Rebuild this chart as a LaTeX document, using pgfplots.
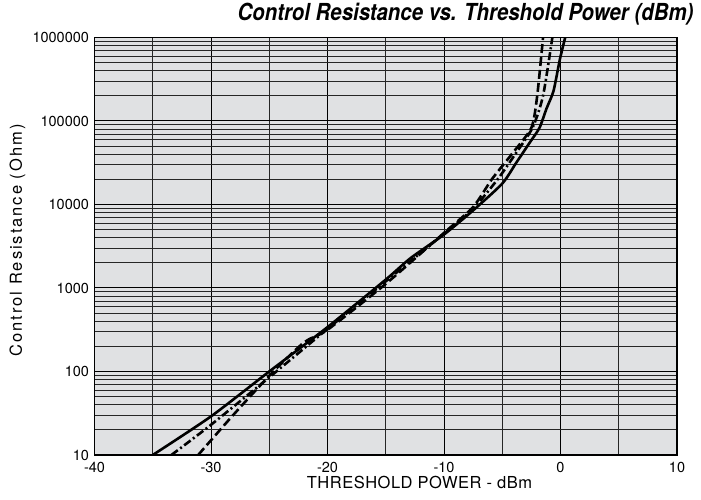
\documentclass[border=0pt]{standalone}
\usepackage{fontspec}
\setmainfont{TeX Gyre Heros}
\usepackage{pgfplots}
\pgfplotsset{compat=1.18}
\definecolor{bg}{RGB}{224,225,227}
\begin{document}
\begin{tikzpicture}
\begin{axis}[name=ax, scale only axis, width=582.5pt, height=417.5pt,
  xmin=-40, xmax=10, ymode=log, ymin=10, ymax=1000000,
  xtick={-40,-30,-20,-10,0,10}, xticklabels={-40,-30,-20,-10,0,10},
  minor xtick={-35,-25,-15,-5,5},
  ytick={10,100,1000,10000,100000,1000000},
  yticklabels={10,100,1000,10000,100000,1000000},
  minor ytick={20,30,40,50,60,70,80,90,200,300,400,500,600,700,800,900,2000,3000,4000,5000,6000,7000,8000,9000,20000,30000,40000,50000,60000,70000,80000,90000,200000,300000,400000,500000,600000,700000,800000,900000},
  grid=both,
  major grid style={black, line width=1pt},
  minor grid style={black!85, line width=0.85pt},
  axis background/.style={fill=bg},
  axis line style={line width=1.8pt},
  major tick length=0pt, minor tick length=0pt,
  tick label style={font=\fontsize{14.5}{15}\selectfont},
  yticklabel style={xshift=-2pt},
  xticklabel style={yshift=-4pt},
  xlabel={THRESHOLD POWER - dBm},
  xlabel style={at={(axis description cs:0.558,0)}, anchor=base, yshift=-34pt, font=\addfontfeatures{LetterSpace=3}\fontsize{16.5}{18}\selectfont},
  ylabel={Control Resistance (Ohm)},
  ylabel style={at={(axis description cs:-0.1245,0.514)}, anchor=base, rotate=0, font=\addfontfeatures{LetterSpace=12}\fontsize{16.5}{18}\selectfont},
  title={\scalebox{1}[1.15]{Control Resistance vs. Threshold Power (dBm)}},
  title style={at={(axis description cs:1,1)}, anchor=base east, xshift=20pt, yshift=10.5pt, font=\bfseries\itshape\fontsize{20.4}{22}\selectfont},
  clip=true,
]
\addplot[black, line width=2.6pt, smooth, tension=0.4] coordinates {
(-35,10) (-30,29) (-25,100) (-20,340) (-15,1260) (-12.85,2290) (-10,4370) (-7.5,8500) (-5,17800) (-3.8,31600) (-2.6,56200) (-1.8,83000) (-1.2,141000) (-0.6,229000) (-0.05,550000) (0.4,1000000)
};
\addplot[black, line width=2.6pt, smooth, tension=0.4, dash pattern=on 9pt off 4pt] coordinates {
(-31.1,10) (-28.2,29) (-24.8,95) (-22,224) (-20,316) (-15,1120) (-10,4570) (-7.5,9330) (-5.9,20000) (-4.2,39800) (-2.5,83000) (-2.0,200000) (-1.5,1000000)
};
\addplot[black, line width=2.6pt, smooth, tension=0.4, dash pattern=on 8pt off 3pt on 2pt off 3pt] coordinates {
(-33.4,10) (-30,23) (-25,85) (-20,324) (-15,1200) (-10,4470) (-7.5,8900) (-5.4,20000) (-3.9,39800) (-2.4,83000) (-1.5,200000) (-0.7,1000000)
};
\end{axis}
\pgfresetboundingbox
\path (ax.south west) ++(-94.5pt,-45pt) rectangle ++(701pt,500pt);
\end{tikzpicture}
\end{document}
